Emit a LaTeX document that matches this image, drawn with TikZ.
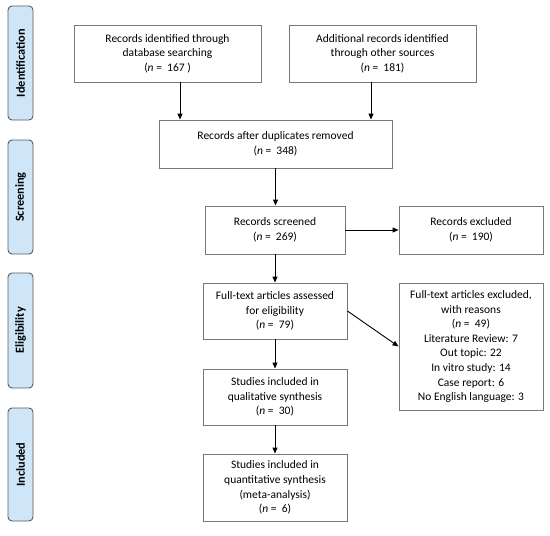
\documentclass[tikz,border=0pt]{standalone}
\usepackage{fontspec}
\setmainfont{Carlito}
\usetikzlibrary{arrows.meta,calc}
\definecolor{lblfill}{RGB}{206,230,248}
\definecolor{lbldraw}{RGB}{90,90,90}
\definecolor{boxdraw}{RGB}{120,120,120}
\begin{document}
\begin{tikzpicture}[x=1pt,y=-1pt,
  box/.style={draw=boxdraw,line width=0.9pt,fill=white,align=center,inner sep=0pt,
    font=\fontsize{11.5}{14.6}\selectfont},
  lbl/.style={draw=lbldraw,line width=0.9pt,fill=lblfill,rounded corners=4pt,
    minimum width=25pt,inner sep=0pt},
  lbltext/.style={rotate=90,font=\fontsize{12.3}{14}\selectfont\bfseries},
  arr/.style={draw=black,line width=0.9pt,-{Triangle[length=6pt,width=5pt]}}]
\useasboundingbox (0,0) rectangle (550,536);
% side labels
\node[lbl,minimum height=114pt] (l1) at (20.5,63) {};
\node[lbltext] (t1) at (l1.center) {Identification};
\node[lbl,minimum height=114pt] (l2) at (20.5,197) {};
\node[lbltext] (t2) at (l2.center) {Screening};
\node[lbl,minimum height=115pt] (l3) at (20.5,330.5) {};
\node[lbltext] (t3) at (l3.center) {Eligibility};
\node[lbl,minimum height=113pt] (l4) at (20.5,464.5) {};
\node[lbltext] (t4) at (l4.center) {Included};
% boxes
\node[box,minimum width=187pt,minimum height=57pt] (b1) at (167.5,53.5)
  {Records identified through\\database searching\\(\textit{n} =\ \ 167 )};
\node[box,minimum width=187pt,minimum height=57pt] (b2) at (382.5,53.5)
  {Additional records identified\\through other sources\\(\textit{n} =\ \ 181)};
\node[box,minimum width=233pt,minimum height=48pt] (b3) at (275.5,144)
  {Records after duplicates removed\\(\textit{n} =\ \ 348)};
\node[box,minimum width=140pt,minimum height=48pt] (b4) at (275,230)
  {Records screened\\(\textit{n} =\ \ 269)};
\node[box,minimum width=144pt,minimum height=48pt] (b5) at (471,230)
  {Records excluded\\(\textit{n} =\ \ 190)};
\node[box,minimum width=144pt,minimum height=56pt] (b6) at (275,311)
  {Full-text articles assessed\\for eligibility\\(\textit{n} =\ \ 79)};
\node[box,minimum width=144pt,minimum height=127pt] (b7) at (471,346.5)
  {Full-text articles excluded,\\with reasons\\(\textit{n} =\ \ 49)\\Literature Review: 7\\Out topic: 22\\In vitro study: 14\\Case report: 6\\No English language: 3};
\node[box,minimum width=144pt,minimum height=56pt] (b8) at (275,397)
  {Studies included in\\qualitative synthesis\\(\textit{n} =\ \ 30)};
\node[box,minimum width=144pt,minimum height=67pt] (b9) at (275,487.5)
  {Studies included in\\quantitative synthesis\\(meta-analysis)\\(\textit{n} =\ \ 6)};
% connectors
\draw[arr] ([xshift=12.5pt]b1.south) -- ([xshift=12.5pt]b1.south |- b3.north);
\draw[arr] ([xshift=-11.5pt]b2.south) -- ([xshift=-11.5pt]b2.south |- b3.north);
\draw[arr] (b3.south) -- (b3.south |- b4.north);
\draw[arr] (b4.east) -- (b5.west);
\draw[arr] (b4.south) -- (b4.south |- b6.north);
\draw[arr] (b6.east) -- (b7.west);
\draw[arr] (b6.south) -- (b8.north);
\draw[arr] (b8.south) -- (b9.north);
\end{tikzpicture}
\end{document}
